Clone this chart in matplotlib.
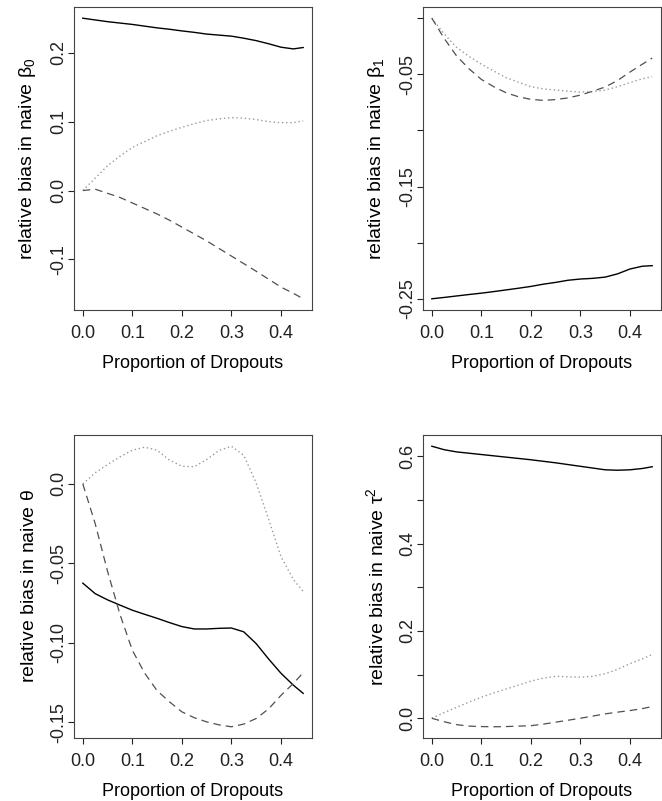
import numpy as np
import matplotlib
matplotlib.use("Agg")
import matplotlib.pyplot as plt

plt.rcParams['font.family'] = ['Liberation Sans', 'DejaVu Sans']
plt.rcParams['mathtext.fontset'] = 'custom'
plt.rcParams['mathtext.rm'] = 'Liberation Sans'
plt.rcParams['mathtext.it'] = 'Liberation Sans:italic'

x = [0.0, 0.025, 0.05, 0.075, 0.1, 0.125, 0.15, 0.175, 0.2, 0.225,
     0.25, 0.275, 0.3, 0.325, 0.35, 0.375, 0.4, 0.425, 0.445]

# beta0
b0_solid = [0.250, 0.2475, 0.245, 0.243, 0.241, 0.2385, 0.236, 0.234, 0.2316, 0.2295,
            0.227, 0.2255, 0.224, 0.221, 0.2175, 0.213, 0.208, 0.2055, 0.2075]
b0_dot = [0.0, 0.018, 0.036, 0.050, 0.0626, 0.071, 0.0796, 0.086, 0.0917, 0.097,
          0.1015, 0.104, 0.1058, 0.105, 0.103, 0.100, 0.0985, 0.0985, 0.101]
b0_dash = [0.0, 0.002, -0.004, -0.010, -0.018, -0.026, -0.034, -0.043, -0.053, -0.063,
           -0.073, -0.084, -0.095, -0.106, -0.117, -0.1285, -0.140, -0.149, -0.157]

# beta1
b1_solid = [-0.25, -0.2488, -0.2475, -0.2462, -0.245, -0.2436, -0.2421, -0.2406, -0.239, -0.237,
            -0.2354, -0.2335, -0.2324, -0.2318, -0.2307, -0.2278, -0.2235, -0.221, -0.2205]
b1_dot = [0.0, -0.014, -0.026, -0.034, -0.041, -0.047, -0.053, -0.057, -0.061, -0.063,
          -0.064, -0.065, -0.0658, -0.0655, -0.064, -0.061, -0.0574, -0.054, -0.052]
b1_dash = [0.0, -0.018, -0.0336, -0.045, -0.0545, -0.061, -0.0664, -0.070, -0.0723, -0.0732,
           -0.0725, -0.071, -0.0685, -0.065, -0.0613, -0.0555, -0.048, -0.041, -0.0355]

# theta
th_solid = [-0.0624, -0.069, -0.0729, -0.0762, -0.0794, -0.082, -0.0845, -0.0872, -0.0897, -0.0912,
            -0.0912, -0.0908, -0.0906, -0.093, -0.1004, -0.110, -0.119, -0.1265, -0.1317]
th_dot = [0.0, 0.007, 0.0122, 0.017, 0.0212, 0.0231, 0.0212, 0.015, 0.0111, 0.0108,
          0.0153, 0.021, 0.0237, 0.018, 0.0006, -0.022, -0.0456, -0.060, -0.0676]
th_dash = [0.0, -0.025, -0.055, -0.082, -0.1046, -0.119, -0.13, -0.137, -0.1433, -0.147,
           -0.1496, -0.1515, -0.1527, -0.151, -0.1475, -0.1415, -0.133, -0.1255, -0.1187]

# tau^2
t2_solid = [0.623, 0.615, 0.610, 0.607, 0.604, 0.601, 0.598, 0.595, 0.592, 0.5885,
            0.585, 0.581, 0.577, 0.573, 0.569, 0.568, 0.569, 0.572, 0.576]
t2_dot = [0.0, 0.013, 0.025, 0.037, 0.048, 0.058, 0.067, 0.076, 0.085, 0.092,
          0.096, 0.095, 0.094, 0.096, 0.102, 0.112, 0.125, 0.136, 0.146]
t2_dash = [0.0, -0.008, -0.0146, -0.018, -0.019, -0.0195, -0.019, -0.018, -0.017, -0.0135,
           -0.009, -0.0045, 0.0, 0.005, 0.010, 0.014, 0.0176, 0.022, 0.027]

panels = [
    (b0_solid, b0_dot, b0_dash, r'relative bias in naive $\mathregular{\beta_0}$',
     [-0.1, 0.0, 0.1, 0.2], ['-0.1', '0.0', '0.1', '0.2']),
    (b1_solid, b1_dot, b1_dash, r'relative bias in naive $\mathregular{\beta_1}$',
     [-0.25, -0.20, -0.15, -0.10, -0.05, 0.0], ['-0.25', '', '-0.15', '', '-0.05', '']),
    (th_solid, th_dot, th_dash, r'relative bias in naive $\mathregular{\theta}$',
     [-0.15, -0.10, -0.05, 0.0], ['-0.15', '-0.10', '-0.05', '0.0']),
    (t2_solid, t2_dot, t2_dash, r'relative bias in naive $\mathregular{\tau^2}$',
     [0.0, 0.1, 0.2, 0.3, 0.4, 0.5, 0.6], ['0.0', '', '0.2', '', '0.4', '', '0.6']),
]

W, H = 662, 801
boxes = [(74, 7, 312, 310), (423, 7, 661, 310), (74, 435, 312, 738), (423, 435, 661, 738)]

fig = plt.figure(figsize=(W / 100, H / 100), dpi=100)
for (solid, dot, dash, ylab, yt, ytl), (l, t, r, b) in zip(panels, boxes):
    ax = fig.add_axes([l / W, 1 - b / H, (r - l) / W, (b - t) / H])
    ax.plot(x, solid, color='black', lw=1.0)
    ax.plot(x, dot, color='#999999', lw=1.0, linestyle=(0, (1, 2)))
    ax.plot(x, dash, color='#505050', lw=0.9, linestyle=(0, (6, 4)))
    ax.margins(x=0.04, y=0.04)
    ax.set_xticks([0.0, 0.1, 0.2, 0.3, 0.4])
    ax.set_xticklabels(['0.0', '0.1', '0.2', '0.3', '0.4'])
    ax.set_yticks(yt)
    ax.set_yticklabels(ytl, rotation=90, va='center')
    ax.tick_params(direction='out', length=4.5, width=0.8, labelsize=13, colors='#222222')
    ax.tick_params(axis='x', pad=6)
    ax.tick_params(axis='y', pad=0)
    for s in ax.spines.values():
        s.set_linewidth(0.8)
        s.set_color('#444444')
    ax.set_xlabel('Proportion of Dropouts', fontsize=13, labelpad=10)
    ax.set_ylabel(ylab, fontsize=14, labelpad=9)

fig.savefig('out.png', dpi=100)
